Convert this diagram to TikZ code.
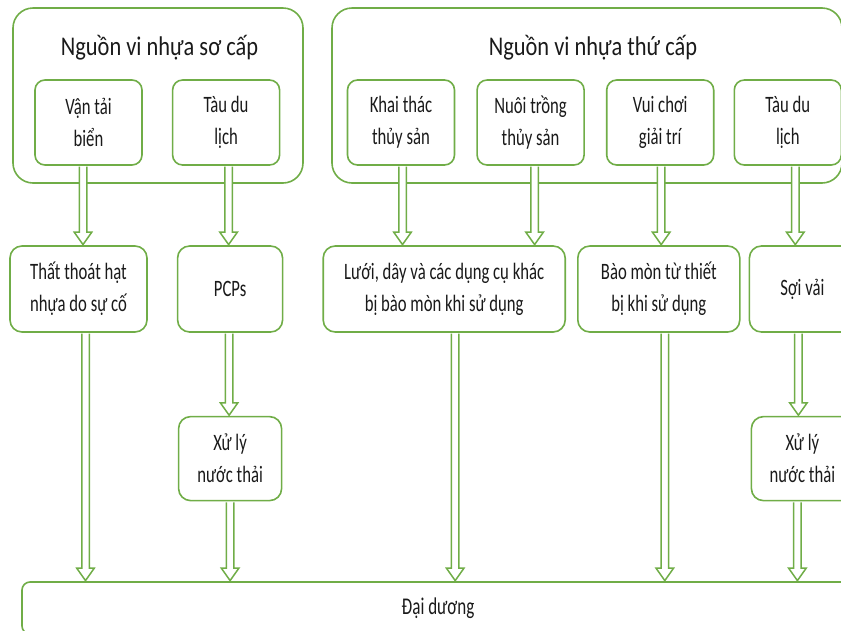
\documentclass[tikz,border=0pt]{standalone}
\usepackage{fontspec}
\setmainfont{Carlito}
\newfontfamily\boxfont{Carlito}[FakeStretch=0.71]
\newfontfamily\titlefont{Carlito}[FakeStretch=0.83]
\usetikzlibrary{positioning, calc}
\definecolor{leaf}{HTML}{70AD47}
\definecolor{ink}{HTML}{1A1A1A}
\tikzset{
  frame/.style={
    rectangle, rounded corners=20pt,
    draw=leaf, fill=white, line width=1.6pt
  },
  srcbox/.style={
    rectangle, rounded corners=10pt,
    draw=leaf, fill=white, line width=1.6pt, inner sep=0pt,
    minimum width=107pt, minimum height=85pt,
    align=center, text=ink, font=\boxfont\fontsize{23.5}{32}\selectfont
  },
  flowbox/.style={srcbox, rounded corners=12pt, minimum height=86pt},
  heading/.style={text=ink, inner sep=0pt, font=\titlefont\fontsize{27}{32}\selectfont},
  hollow/.style={
    draw=leaf, fill=white, line width=1.5pt, line join=miter,
    to path={let \p1=(\tikztostart), \p2=(\tikztotarget) in
      (\x1-3.75pt,\y1-0.9pt) -- (\x1-3.75pt,\y2+13pt) -- (\x1-8.75pt,\y2+13pt)
      -- (\x1,\y2+0.6pt) -- (\x1+8.75pt,\y2+13pt) -- (\x1+3.75pt,\y2+13pt)
      -- (\x1+3.75pt,\y1-0.9pt)}
  },
}

\begin{document}
\begin{tikzpicture}[x=1pt, y=-1pt]
  \useasboundingbox (0,0) rectangle (841,630);

  % sources
  \node[frame, minimum width=290pt, minimum height=175pt] (primary) at (158,95.5) {};
  \node[frame, minimum width=510pt, minimum height=175pt] (secondary) at (587,95.5) {};
  \node[heading] (primtitle) at (159.5,47.5) {Nguồn vi nhựa sơ cấp};
  \node[heading] (sectitle) at (593,47.5) {Nguồn vi nhựa thứ cấp};

  \node[srcbox] (van) at (88.5,122.5) {Vận tải\\biển};
  \node[srcbox, right=29pt of van] (tau1) {Tàu du\\lịch};
  \node[srcbox] (khai) at (401,122.5) {Khai thác\\thủy sản};
  \node[srcbox, right=21pt of khai] (nuoi) {Nuôi trồng\\thủy sản};
  \node[srcbox, right=21pt of nuoi] (vui) {Vui chơi\\giải trí};
  \node[srcbox, right=19pt of vui] (tau2) {Tàu du\\lịch};

  % pathways
  \node[flowbox, minimum width=137pt] (loss) at (78.5,289) {Thất thoát hạt\\nhựa do sự cố};
  \node[flowbox, minimum width=105pt, right=29pt of loss] (pcps) {PCPs};
  \node[flowbox, minimum width=242pt, right=39pt of pcps] (luoi)
    {Lưới, dây và các dụng cụ khác\\bị bào mòn khi sử dụng};
  \node[flowbox, minimum width=162pt, right=11pt of luoi] (baomon)
    {Bào mòn từ thiết\\bị khi sử dụng};
  \node[flowbox, minimum width=106pt, right=8pt of baomon] (soi) {Sợi vải};
  \node[flowbox, minimum width=103pt, minimum height=84pt, below=83pt of pcps] (xuly1)
    {Xử lý\\nước thải};
  \node[flowbox, minimum width=102pt, minimum height=84pt, below=83pt of soi] (xuly2)
    {Xử lý\\nước thải};

  \node[flowbox, rounded corners=8pt, minimum width=832pt, minimum height=52pt,
    font=\boxfont\fontsize{24}{28}\selectfont] (ocean) at (438,608) {Đại dương};

  % arrows
  \draw[hollow] ([xshift=-5.5pt]van.south) to (loss.north);
  \draw[hollow] ([xshift=2.5pt]tau1.south) to (pcps.north);
  \draw[hollow] ([xshift=1.5pt]khai.south) to (luoi.north);
  \draw[hollow] ([xshift=4pt]nuoi.south) to (luoi.north);
  \draw[hollow] ([xshift=1pt]vui.south) to (baomon.north);
  \draw[hollow] ([xshift=7.5pt]tau2.south) to (soi.north);

  \draw[hollow] ([xshift=7pt]loss.south) to (ocean.north);
  \draw[hollow] ([xshift=-1pt]pcps.south) to (xuly1.north);
  \draw[hollow] (xuly1.south) to (ocean.north);
  \draw[hollow] ([xshift=11pt]luoi.south) to (ocean.north);
  \draw[hollow] ([xshift=6pt]baomon.south) to (ocean.north);
  \draw[hollow] ([xshift=-4pt]soi.south) to (xuly2.north);
  \draw[hollow] ([xshift=-5pt]xuly2.south) to (ocean.north);
\end{tikzpicture}
\end{document}
